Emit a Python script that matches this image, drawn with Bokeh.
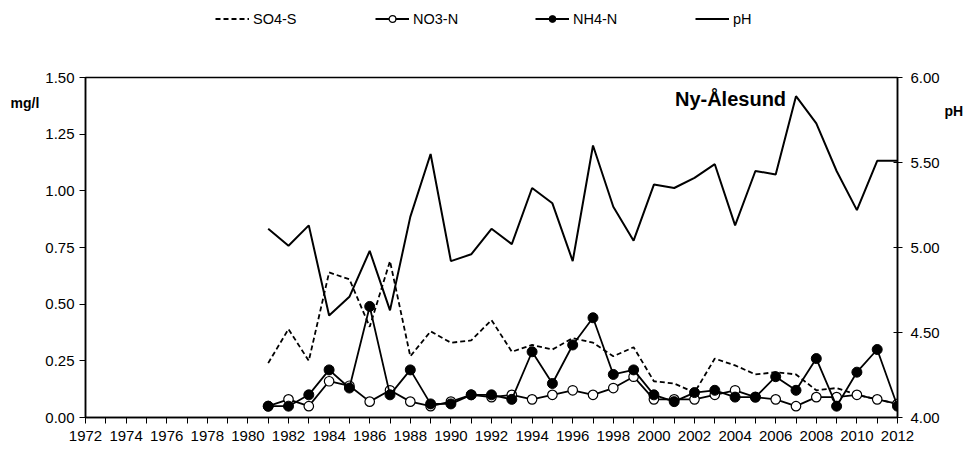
from bokeh.plotting import figure
from bokeh.models import (Range1d, LinearAxis, FixedTicker, NumeralTickFormatter,
                          Legend, LegendItem, Label)
from bokeh.layouts import column, row
from bokeh.embed import file_html
from bokeh.resources import INLINE

years = list(range(1981, 2013))
so4_s = [0.24, 0.39, 0.25, 0.64, 0.61, 0.40, 0.69, 0.27, 0.38, 0.33,
         0.34, 0.43, 0.29, 0.32, 0.30, 0.35, 0.33, 0.27, 0.31, 0.16,
         0.15, 0.11, 0.26, 0.23, 0.19, 0.20, 0.19, 0.12, 0.13, 0.10,
         0.08, 0.06]
no3_n = [0.05, 0.08, 0.05, 0.16, 0.14, 0.07, 0.12, 0.07, 0.05, 0.07,
         0.10, 0.09, 0.10, 0.08, 0.10, 0.12, 0.10, 0.13, 0.18, 0.08,
         0.08, 0.08, 0.10, 0.12, 0.09, 0.08, 0.05, 0.09, 0.09, 0.10,
         0.08, 0.06]
nh4_n = [0.05, 0.05, 0.10, 0.21, 0.13, 0.49, 0.10, 0.21, 0.06, 0.06,
         0.10, 0.10, 0.08, 0.29, 0.15, 0.32, 0.44, 0.19, 0.21, 0.10,
         0.07, 0.11, 0.12, 0.09, 0.09, 0.18, 0.12, 0.26, 0.05, 0.20,
         0.30, 0.05]
ph = [5.11, 5.01, 5.13, 4.60, 4.71, 4.98, 4.63, 5.18, 5.55, 4.92,
      4.96, 5.11, 5.02, 5.35, 5.26, 4.92, 5.60, 5.24, 5.04, 5.37,
      5.35, 5.41, 5.49, 5.13, 5.45, 5.43, 5.89, 5.73, 5.45, 5.22,
      5.51, 5.51]
series_names = ["SO4-S", "NO3-N", "NH4-N", "pH"]

x_ticks = list(range(1972, 2013))
left_ticks = [0.0, 0.25, 0.5, 0.75, 1.0, 1.25, 1.5]
right_ticks = [4.0, 4.5, 5.0, 5.5, 6.0]

FONT = "Liberation Sans"

# style of each series (shared by the chart and the legend strip)
ST_SO4 = dict(line_color="black", line_width=1.8, line_dash="5 3")
ST_LINE = dict(line_color="black", line_width=1.8)
ST_OPEN = dict(size=9.5, marker="circle", fill_color="white",
               line_color="black", line_width=1.2)
ST_FILL = dict(size=10, marker="circle", fill_color="black", line_color="black")
ST_PH = dict(line_color="black", line_width=2)

TOP_H = 67        # legend strip height
MAIN_H = 383      # chart height (10 top border + 340 frame + 33 bottom)


def strip(w, h):
    s = figure(width=w, height=h, output_backend="svg", toolbar_location=None,
               title=None, x_axis_type=None, y_axis_type=None,
               x_range=Range1d(0, 1), y_range=Range1d(0, 1), min_border=0)
    s.min_border_left = s.min_border_right = 0
    s.min_border_top = s.min_border_bottom = 0
    s.outline_line_color = None
    s.grid.visible = False
    s.background_fill_color = "white"
    s.border_fill_color = "white"
    return s


# ---------------- main chart ----------------
p = figure(width=902, height=MAIN_H, output_backend="svg", toolbar_location=None,
           title=None, x_range=Range1d(1972, 2012), y_range=Range1d(0, 1.5),
           min_border=0, min_border_left=45, min_border_right=45,
           min_border_top=10, min_border_bottom=33)
p.extra_y_ranges = {"ph": Range1d(4, 6)}
p.xgrid.visible = False
p.ygrid.visible = False
p.outline_line_color = "black"
p.outline_line_width = 1.5
p.background_fill_color = "white"
p.border_fill_color = "white"

p.xaxis.ticker = FixedTicker(ticks=x_ticks)
p.xaxis.major_label_overrides = {y: "" for y in x_ticks if y % 2 == 1}
p.yaxis.ticker = FixedTicker(ticks=left_ticks)
p.yaxis.formatter = NumeralTickFormatter(format="0.00")

ax_r = LinearAxis(y_range_name="ph", ticker=FixedTicker(ticks=right_ticks),
                  formatter=NumeralTickFormatter(format="0.00"))
p.add_layout(ax_r, "right")

for ax in [p.xaxis[0], p.yaxis[0], ax_r]:
    ax.axis_line_color = "black"
    ax.axis_line_width = 1.5
    ax.major_tick_line_color = "black"
    ax.major_tick_line_width = 1
    ax.major_tick_out = 6
    ax.major_tick_in = 0
    ax.minor_tick_line_color = None
    ax.major_label_text_font = FONT
    ax.major_label_text_font_size = "15px"
    ax.major_label_text_color = "black"
p.xaxis.major_label_standoff = 7
p.yaxis.major_label_standoff = 5
ax_r.major_tick_in = 4
ax_r.major_tick_out = 5
ax_r.major_label_standoff = 8

p.line(years, so4_s, **ST_SO4)
p.line(years, no3_n, **ST_LINE)
p.scatter(years, no3_n, **ST_OPEN)
p.line(years, nh4_n, **ST_LINE)
p.scatter(years, nh4_n, **ST_FILL)
p.line(years, ph, y_range_name="ph", **ST_PH)

p.add_layout(Label(x=645, y=319, x_units="screen", y_units="screen",
                   text="Ny-Ålesund", text_font=FONT, text_font_style="bold",
                   text_font_size="20px", text_baseline="middle",
                   text_align="center", text_color="black"))

# ---------------- legend strip (top) ----------------
# the same series drawn again, outside this strip's visible range, so that
# the legend can show their line / marker samples
top = strip(963, TOP_H)
k_so4 = top.line(years, so4_s, **ST_SO4)
k_no3 = [top.line(years, no3_n, **ST_LINE), top.scatter(years, no3_n, **ST_OPEN)]
k_nh4 = [top.line(years, nh4_n, **ST_LINE), top.scatter(years, nh4_n, **ST_FILL)]
k_ph = top.line(years, ph, **ST_PH)
legend = Legend(items=[
    LegendItem(label=series_names[0], renderers=[k_so4]),
    LegendItem(label=series_names[1], renderers=k_no3),
    LegendItem(label=series_names[2], renderers=k_nh4),
    LegendItem(label=series_names[3], renderers=[k_ph]),
], orientation="horizontal", location=(215, 40), glyph_width=34,
    glyph_height=17, label_height=17, label_width=100, spacing=22,
    label_standoff=4, padding=0, margin=0, border_line_color=None,
    background_fill_alpha=0, label_text_font=FONT,
    label_text_font_size="14.5px", label_text_color="black")
top.add_layout(legend)

# ---------------- unit captions (side strips, frames aligned with chart) ----
left = strip(40, MAIN_H)
left.add_layout(Label(x=10, y=315, x_units="screen", y_units="screen",
                      text="mg/l", text_font=FONT, text_font_style="bold",
                      text_font_size="14px", text_baseline="middle",
                      text_color="black"))
right = strip(21, MAIN_H)
right.add_layout(Label(x=2, y=307, x_units="screen", y_units="screen",
                       text="pH", text_font=FONT, text_font_style="bold",
                       text_font_size="14px", text_baseline="middle",
                       text_color="black"))

layout = column(top, row(left, p, right, spacing=0), spacing=0)

open("out.html", "w").write(file_html(layout, INLINE))
